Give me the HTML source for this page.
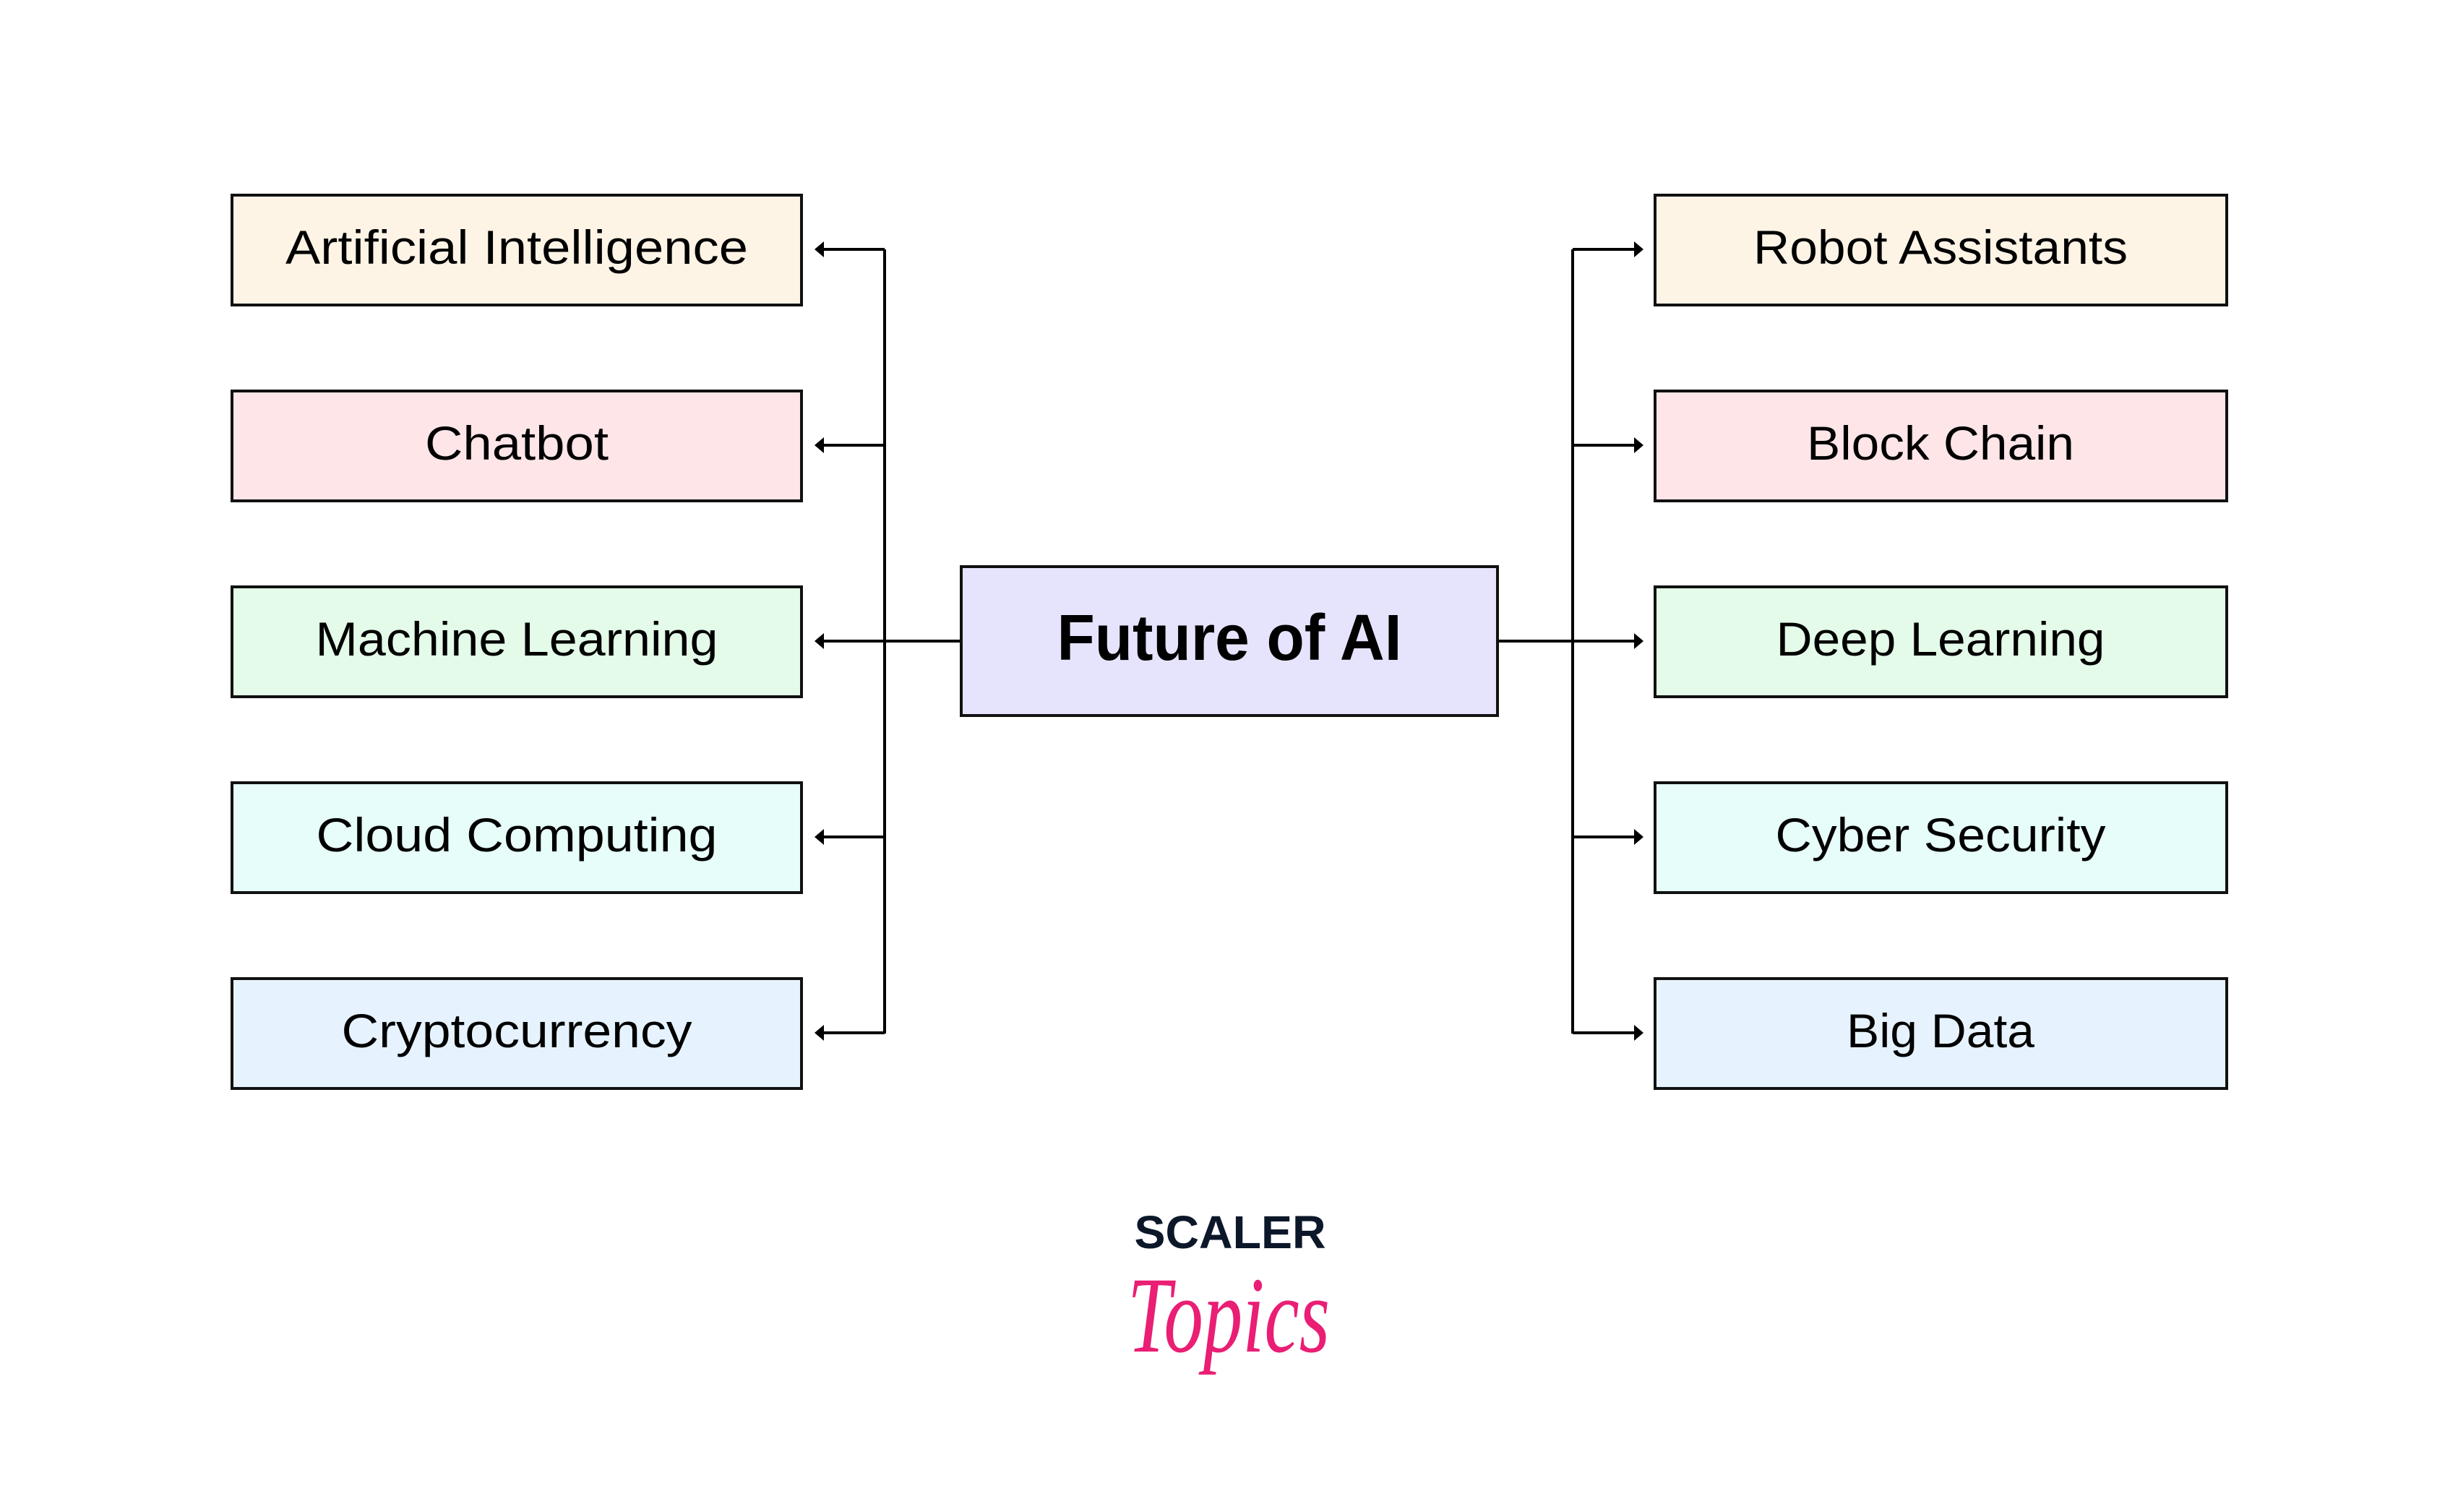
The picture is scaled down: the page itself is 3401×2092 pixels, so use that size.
<!DOCTYPE html>
<html><head><meta charset="utf-8"><style>
html,body{margin:0;padding:0;background:#fff;}
svg{display:block;}
text{font-family:"Liberation Sans",sans-serif;}
</style></head><body>
<svg width="3401" height="2092" viewBox="0 0 3401 2092" xmlns="http://www.w3.org/2000/svg">
<rect width="3401" height="2092" fill="#fff"/>
<g stroke="#000" stroke-width="4" fill="none">
<line x1="1224" y1="345" x2="1224" y2="1430"/>
<line x1="2176" y1="345" x2="2176" y2="1430"/>
<line x1="1138" y1="887" x2="1330" y2="887"/>
<line x1="2072" y1="887" x2="2262" y2="887"/>
<line x1="1138" y1="345" x2="1224" y2="345"/>
<line x1="1138" y1="616" x2="1224" y2="616"/>
<line x1="1138" y1="1158" x2="1224" y2="1158"/>
<line x1="1138" y1="1429" x2="1224" y2="1429"/>
<line x1="2176" y1="345" x2="2262" y2="345"/>
<line x1="2176" y1="616" x2="2262" y2="616"/>
<line x1="2176" y1="1158" x2="2262" y2="1158"/>
<line x1="2176" y1="1429" x2="2262" y2="1429"/>
</g>
<g fill="#000">
<polygon points="1127,345 1140,334 1140,356"/>
<polygon points="1127,616 1140,605 1140,627"/>
<polygon points="1127,887 1140,876 1140,898"/>
<polygon points="1127,1158 1140,1147 1140,1169"/>
<polygon points="1127,1429 1140,1418 1140,1440"/>
<polygon points="2274,345 2261,334 2261,356"/>
<polygon points="2274,616 2261,605 2261,627"/>
<polygon points="2274,887 2261,876 2261,898"/>
<polygon points="2274,1158 2261,1147 2261,1169"/>
<polygon points="2274,1429 2261,1418 2261,1440"/>
</g>
<g stroke="#111" stroke-width="4">
<rect x="321" y="270" width="788" height="152" fill="#fdf4e6"/>
<rect x="321" y="541" width="788" height="152" fill="#fde5e8"/>
<rect x="321" y="812" width="788" height="152" fill="#e3fbe8"/>
<rect x="321" y="1083" width="788" height="152" fill="#e6fdfa"/>
<rect x="321" y="1354" width="788" height="152" fill="#e6f3fe"/>
<rect x="2290" y="270" width="791" height="152" fill="#fdf4e6"/>
<rect x="2290" y="541" width="791" height="152" fill="#fde5e8"/>
<rect x="2290" y="812" width="791" height="152" fill="#e3fbe8"/>
<rect x="2290" y="1083" width="791" height="152" fill="#e6fdfa"/>
<rect x="2290" y="1354" width="791" height="152" fill="#e6f3fe"/>
<rect x="1330" y="784" width="742" height="206" fill="#e6e4fd"/>
</g>
<g font-size="66" fill="#000" text-anchor="middle">
<text x="715" y="365" textLength="640" lengthAdjust="spacingAndGlyphs">Artificial Intelligence</text>
<text x="715" y="636" textLength="254" lengthAdjust="spacingAndGlyphs">Chatbot</text>
<text x="715" y="907" textLength="557" lengthAdjust="spacingAndGlyphs">Machine Learning</text>
<text x="715" y="1178" textLength="555" lengthAdjust="spacingAndGlyphs">Cloud Computing</text>
<text x="715" y="1449" textLength="485" lengthAdjust="spacingAndGlyphs">Cryptocurrency</text>
<text x="2685" y="365" textLength="518" lengthAdjust="spacingAndGlyphs">Robot Assistants</text>
<text x="2685" y="636" textLength="370" lengthAdjust="spacingAndGlyphs">Block Chain</text>
<text x="2685" y="907" textLength="455" lengthAdjust="spacingAndGlyphs">Deep Learning</text>
<text x="2685" y="1178" textLength="457" lengthAdjust="spacingAndGlyphs">Cyber Security</text>
<text x="2685" y="1449" textLength="260" lengthAdjust="spacingAndGlyphs">Big Data</text>
</g>
<text x="1701" y="913" font-size="90" font-weight="bold" text-anchor="middle" textLength="477" lengthAdjust="spacingAndGlyphs">Future of AI</text>
<text x="1702" y="1727" font-size="64" font-weight="bold" fill="#0c1729" text-anchor="middle" textLength="265" lengthAdjust="spacingAndGlyphs">SCALER</text>
<text x="1700" y="1870" font-size="150" font-style="italic" fill="#e91e74" text-anchor="middle" textLength="280" lengthAdjust="spacingAndGlyphs" style="font-family:'Liberation Serif',serif">Topics</text>
</svg>
</body></html>
